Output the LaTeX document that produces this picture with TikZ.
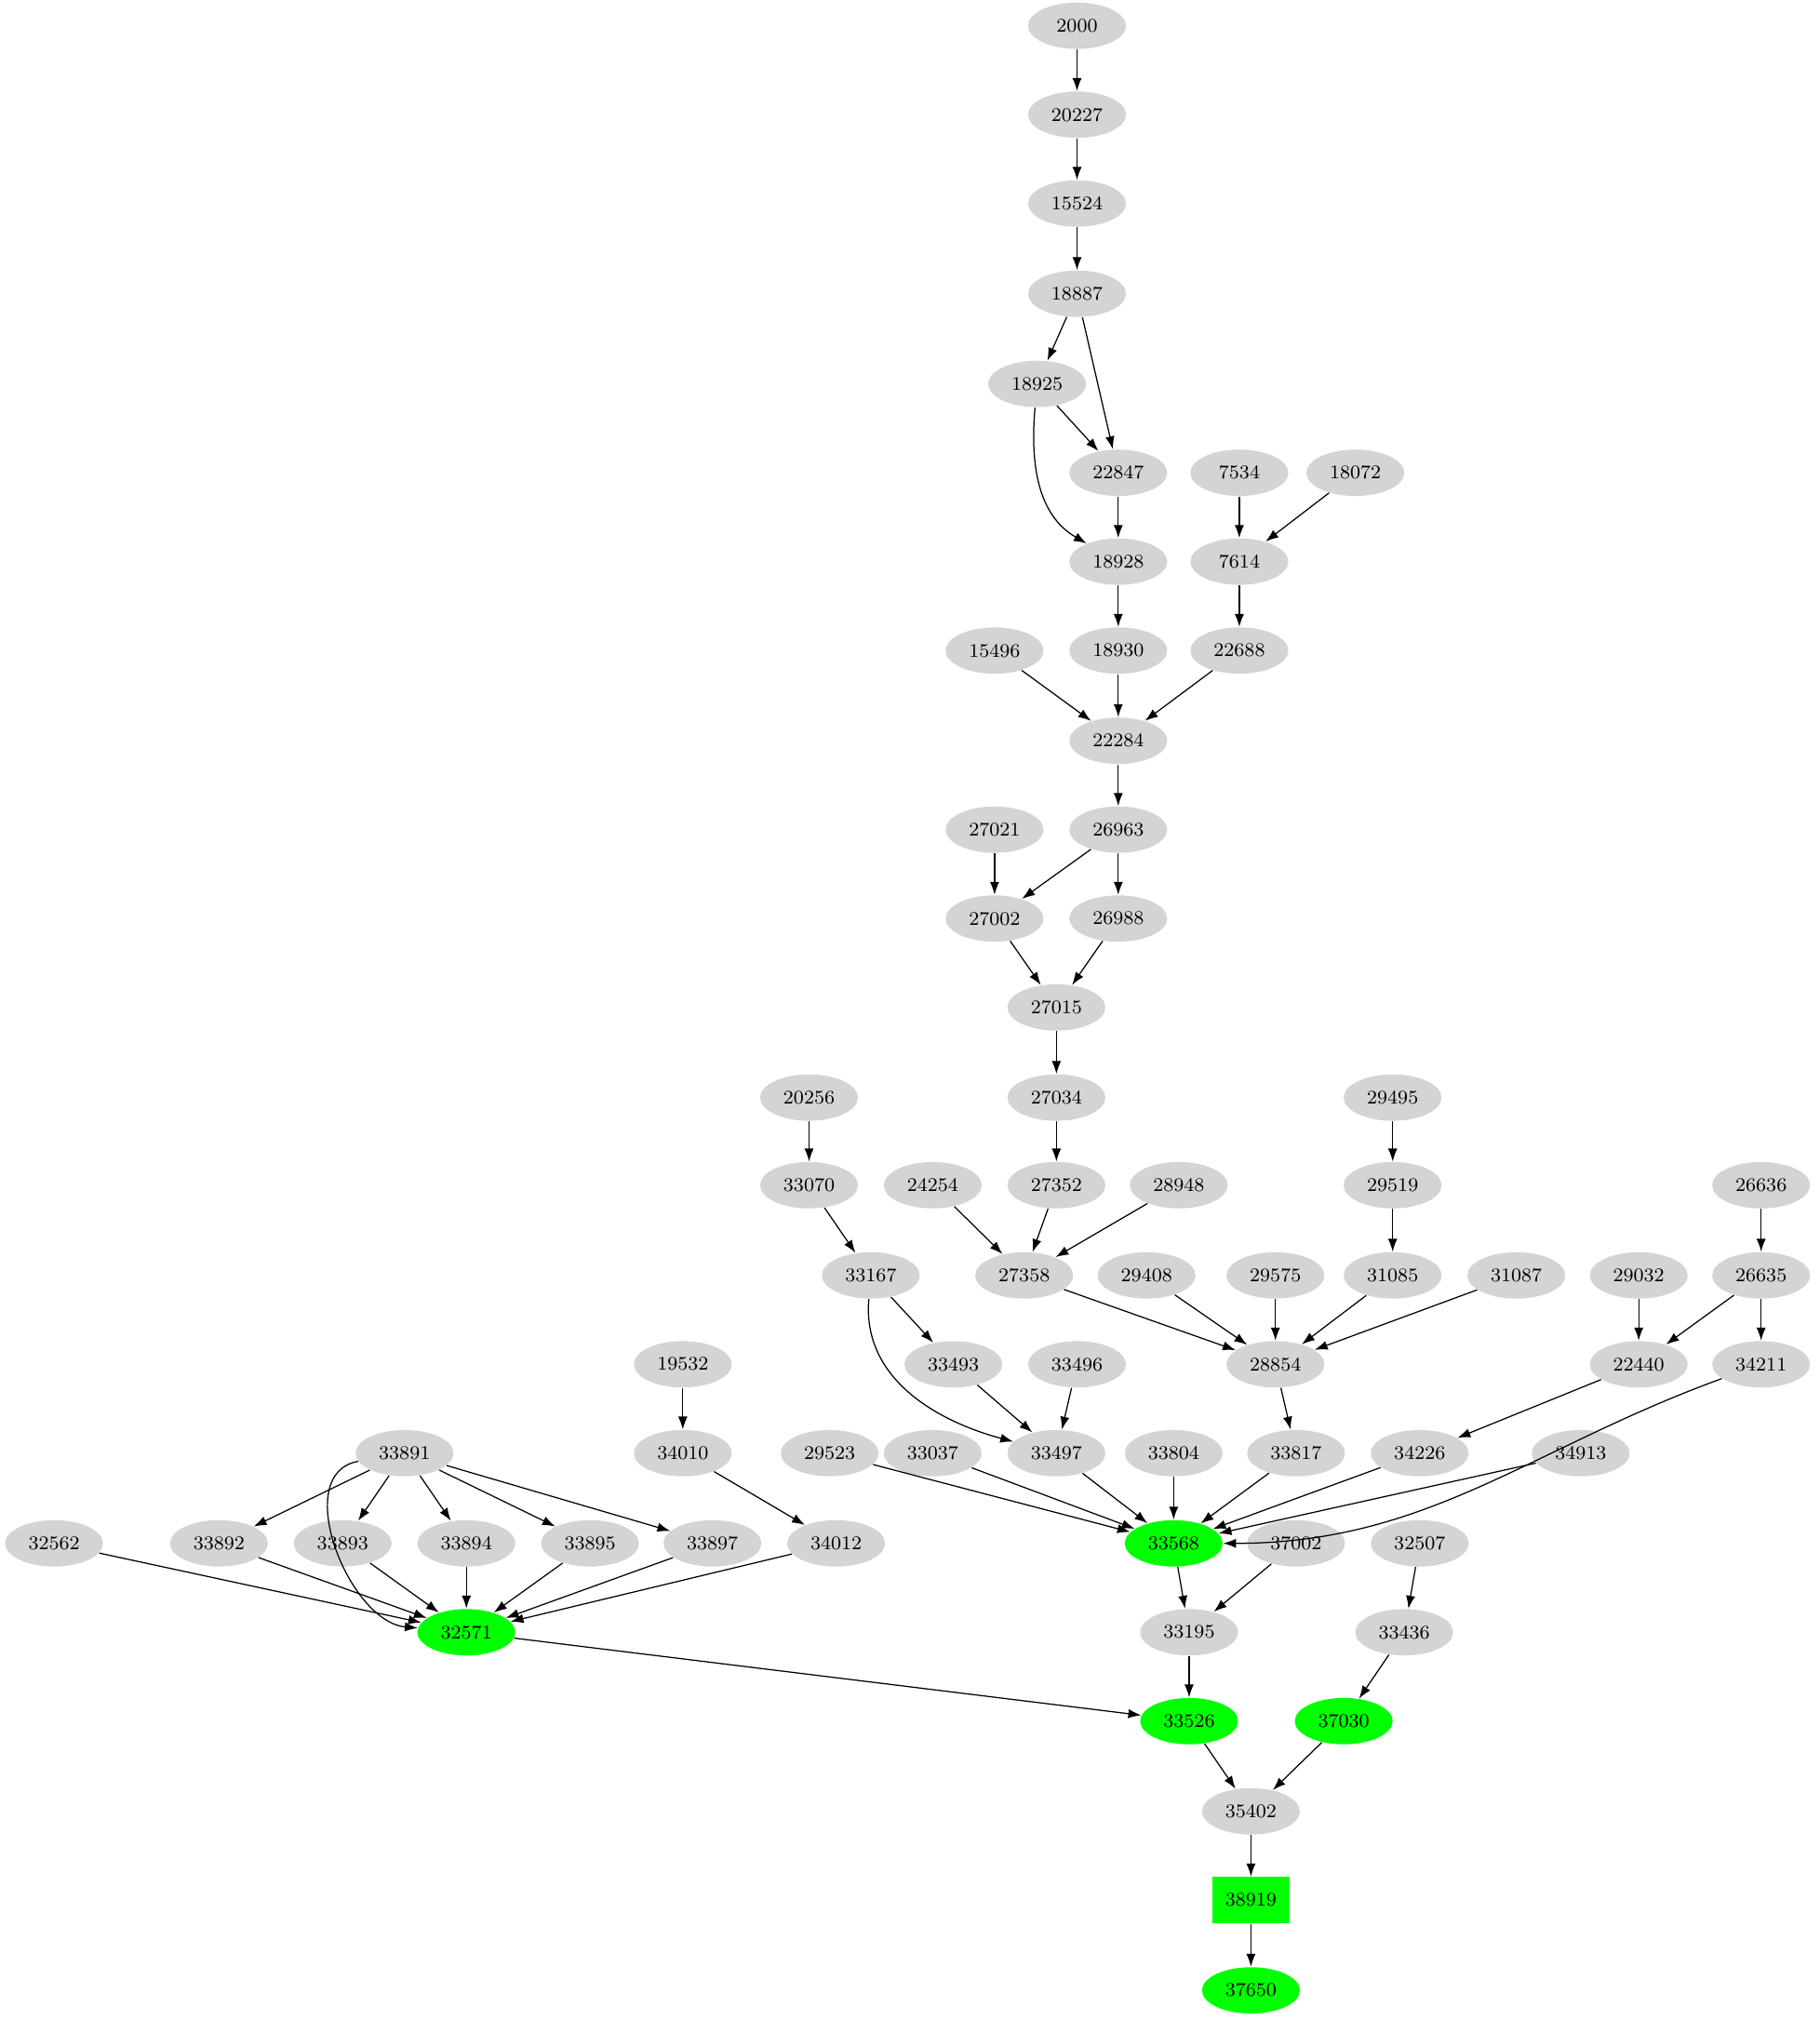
\documentclass[tikz,border=0pt]{standalone}
\usetikzlibrary{arrows.meta,shapes.geometric}

\tikzset{
  gnode/.style={ellipse, fill=black!17, minimum width=38pt, minimum height=18pt, inner sep=0.5pt, font=\fontsize{7.5}{9}\selectfont},
  hot/.style={gnode, fill=green},
  hotbox/.style={rectangle, fill=green, minimum width=30pt, minimum height=18pt, inner sep=0.5pt, font=\fontsize{7.5}{9}\selectfont},
  edge/.style={-{Latex[length=5pt,width=3.6pt]}, line width=0.45pt}
}

\begin{document}
\begin{tikzpicture}[x=0.5pt,y=-0.5pt]
\useasboundingbox (0,0) rectangle (1412,1568);

% upper chain
\node[gnode] (n2000) at (836,20) {2000};
\node[gnode] (n20227) at (836,89) {20227};
\node[gnode] (n15524) at (836,158) {15524};
\node[gnode] (n18887) at (836,228) {18887};
\node[gnode] (n18925) at (805,298) {18925};
\node[gnode] (n22847) at (868,367) {22847};
\node[gnode] (n7534) at (962,367) {7534};
\node[gnode] (n18072) at (1052,367) {18072};
\node[gnode] (n18928) at (868,436) {18928};
\node[gnode] (n7614) at (962,436) {7614};
\node[gnode] (n15496) at (772,505) {15496};
\node[gnode] (n18930) at (868,505) {18930};
\node[gnode] (n22688) at (962,505) {22688};
\node[gnode] (n22284) at (868,575) {22284};
\node[gnode] (n27021) at (772,644) {27021};
\node[gnode] (n26963) at (868,644) {26963};
\node[gnode] (n27002) at (772,713) {27002};
\node[gnode] (n26988) at (868,713) {26988};
\node[gnode] (n27015) at (820,782) {27015};
\node[gnode] (n20256) at (628,852) {20256};
\node[gnode] (n27034) at (820,852) {27034};
\node[gnode] (n29495) at (1081,852) {29495};
\node[gnode] (n33070) at (628,920) {33070};
\node[gnode] (n24254) at (724,920) {24254};
\node[gnode] (n27352) at (820,920) {27352};
\node[gnode] (n28948) at (915,920) {28948};
\node[gnode] (n29519) at (1081,920) {29519};
\node[gnode] (n26636) at (1367,920) {26636};
\node[gnode] (n33167) at (676,990) {33167};
\node[gnode] (n27358) at (795,990) {27358};
\node[gnode] (n29408) at (890,990) {29408};
\node[gnode] (n29575) at (990,990) {29575};
\node[gnode] (n31085) at (1081,990) {31085};
\node[gnode] (n31087) at (1177,990) {31087};
\node[gnode] (n29032) at (1272,990) {29032};
\node[gnode] (n26635) at (1367,990) {26635};
\node[gnode] (n19532) at (530,1059) {19532};
\node[gnode] (n33493) at (740,1059) {33493};
\node[gnode] (n33496) at (836,1059) {33496};
\node[gnode] (n28854) at (990,1059) {28854};
\node[gnode] (n22440) at (1272,1059) {22440};
\node[gnode] (n34211) at (1367,1059) {34211};
\node[gnode] (n33891) at (314,1128) {33891};
\node[gnode] (n34010) at (530,1128) {34010};
\node[gnode] (n29523) at (644,1128) {29523};
\node[gnode] (n33037) at (724,1128) {33037};
\node[gnode] (n33497) at (820,1128) {33497};
\node[gnode] (n33804) at (911,1128) {33804};
\node[gnode] (n33817) at (1006,1128) {33817};
\node[gnode] (n34226) at (1102,1128) {34226};
\node[gnode] (n34913) at (1227,1128) {34913};
\node[gnode] (n32562) at (42,1198) {32562};
\node[gnode] (n33892) at (170,1198) {33892};
\node[gnode] (n33893) at (266,1198) {33893};
\node[gnode] (n33894) at (362,1198) {33894};
\node[gnode] (n33895) at (458,1198) {33895};
\node[gnode] (n33897) at (553,1198) {33897};
\node[gnode] (n34012) at (649,1198) {34012};
\node[hot] (n33568) at (911,1198) {33568};
\node[gnode] (n37002) at (1006,1198) {37002};
\node[gnode] (n32507) at (1102,1198) {32507};
\node[hot] (n32571) at (362,1267) {32571};
\node[gnode] (n33195) at (923,1267) {33195};
\node[gnode] (n33436) at (1090,1267) {33436};
\node[hot] (n33526) at (923,1336) {33526};
\node[hot] (n37030) at (1043,1336) {37030};
\node[gnode] (n35402) at (971,1406) {35402};
\node[hotbox] (n38919) at (971,1475) {38919};
\node[hot] (n37650) at (971,1545) {37650};

% edges
\draw[edge] (n2000) -- (n20227);
\draw[edge] (n20227) -- (n15524);
\draw[edge] (n15524) -- (n18887);
\draw[edge] (n18887) -- (n18925);
\draw[edge] (n18887) -- (n22847);
\draw[edge] (n18925) -- (n22847);
\draw[edge] (n18925) to[out=-95,in=150] (n18928);
\draw[edge] (n22847) -- (n18928);
\draw[edge] (n7534) -- (n7614);
\draw[edge] (n18072) -- (n7614);
\draw[edge] (n18928) -- (n18930);
\draw[edge] (n7614) -- (n22688);
\draw[edge] (n15496) -- (n22284);
\draw[edge] (n18930) -- (n22284);
\draw[edge] (n22688) -- (n22284);
\draw[edge] (n22284) -- (n26963);
\draw[edge] (n27021) -- (n27002);
\draw[edge] (n26963) -- (n27002);
\draw[edge] (n26963) -- (n26988);
\draw[edge] (n27002) -- (n27015);
\draw[edge] (n26988) -- (n27015);
\draw[edge] (n27015) -- (n27034);
\draw[edge] (n27034) -- (n27352);
\draw[edge] (n20256) -- (n33070);
\draw[edge] (n29495) -- (n29519);
\draw[edge] (n33070) -- (n33167);
\draw[edge] (n24254) -- (n27358);
\draw[edge] (n27352) -- (n27358);
\draw[edge] (n28948) -- (n27358);
\draw[edge] (n29519) -- (n31085);
\draw[edge] (n26636) -- (n26635);
\draw[edge] (n27358) -- (n28854);
\draw[edge] (n29408) -- (n28854);
\draw[edge] (n29575) -- (n28854);
\draw[edge] (n31085) -- (n28854);
\draw[edge] (n31087) -- (n28854);
\draw[edge] (n29032) -- (n22440);
\draw[edge] (n26635) -- (n22440);
\draw[edge] (n26635) -- (n34211);
\draw[edge] (n33167) -- (n33493);
\draw[edge] (n33167) to[out=-95,in=165] (n33497);
\draw[edge] (n33493) -- (n33497);
\draw[edge] (n33496) -- (n33497);
\draw[edge] (n19532) -- (n34010);
\draw[edge] (n28854) -- (n33817);
\draw[edge] (n22440) -- (n34226);
\draw[edge] (n34010) -- (n34012);
\draw[edge] (n29523) -- (n33568);
\draw[edge] (n33037) -- (n33568);
\draw[edge] (n33497) -- (n33568);
\draw[edge] (n33804) -- (n33568);
\draw[edge] (n33817) -- (n33568);
\draw[edge] (n34226) -- (n33568);
\draw[edge] (n34913) -- (n33568);
\draw[edge] (n34211) to[out=-160,in=0] (n33568);
\draw[edge] (n33891) -- (n33892);
\draw[edge] (n33891) -- (n33893);
\draw[edge] (n33891) -- (n33894);
\draw[edge] (n33891) -- (n33895);
\draw[edge] (n33891) -- (n33897);
\draw[edge] (n33891) to[out=190,in=175] (n32571);
\draw[edge] (n32562) -- (n32571);
\draw[edge] (n33892) -- (n32571);
\draw[edge] (n33893) -- (n32571);
\draw[edge] (n33894) -- (n32571);
\draw[edge] (n33895) -- (n32571);
\draw[edge] (n33897) -- (n32571);
\draw[edge] (n34012) -- (n32571);
\draw[edge] (n33568) -- (n33195);
\draw[edge] (n37002) -- (n33195);
\draw[edge] (n32507) -- (n33436);
\draw[edge] (n32571) -- (n33526);
\draw[edge] (n33195) -- (n33526);
\draw[edge] (n33436) -- (n37030);
\draw[edge] (n33526) -- (n35402);
\draw[edge] (n37030) -- (n35402);
\draw[edge] (n35402) -- (n38919);
\draw[edge] (n38919) -- (n37650);

\end{tikzpicture}
\end{document}
